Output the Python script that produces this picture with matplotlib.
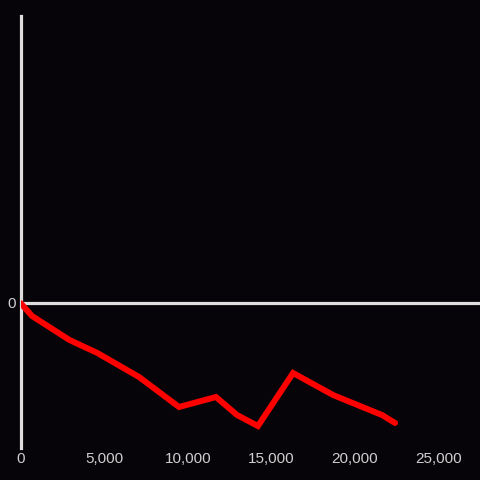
import matplotlib
matplotlib.use("Agg")
import matplotlib.pyplot as plt
from matplotlib.ticker import FuncFormatter

# values
x_vals = [0, 690, 2930, 4600, 7090, 9480, 11690, 12950, 14200, 16300, 18690, 21620, 22400]
y_vals = [0, -13, -37, -50, -74, -104, -94, -112, -123, -70, -92, -112, -120]
x_ticks = [0, 5000, 10000, 15000, 20000, 25000]
y_ticks = [0]

BG = "#060408"
AXIS = "#dedede"
TEXT = "#cfcfcf"

plt.rcParams['font.family'] = ['Liberation Sans', 'DejaVu Sans']

fig = plt.figure(figsize=(4.8, 4.8), dpi=100, facecolor=BG)
ax = fig.add_axes([20.5 / 480, 32 / 480, 459.5 / 480, 432 / 480], facecolor=BG)

ax.plot(x_vals, y_vals, color="#ff0000", lw=4.3, solid_capstyle="round", solid_joinstyle="miter", zorder=3)
ax.axhline(0, color=AXIS, lw=2.3, zorder=2)

ax.set_xlim(0, 27480)
ax.set_ylim(-145, 287)

for side in ["top", "right", "bottom"]:
    ax.spines[side].set_visible(False)
ax.spines["left"].set_color(AXIS)
ax.spines["left"].set_linewidth(2.3)

ax.set_xticks(x_ticks)
ax.xaxis.set_major_formatter(FuncFormatter(lambda v, p: f"{int(v):,}"))
ax.set_yticks(y_ticks)
ax.tick_params(axis="both", length=0, labelsize=11, colors=TEXT)
ax.tick_params(axis="x", pad=3)
ax.tick_params(axis="y", pad=3)

fig.savefig("out.png", dpi=100, facecolor=BG)
